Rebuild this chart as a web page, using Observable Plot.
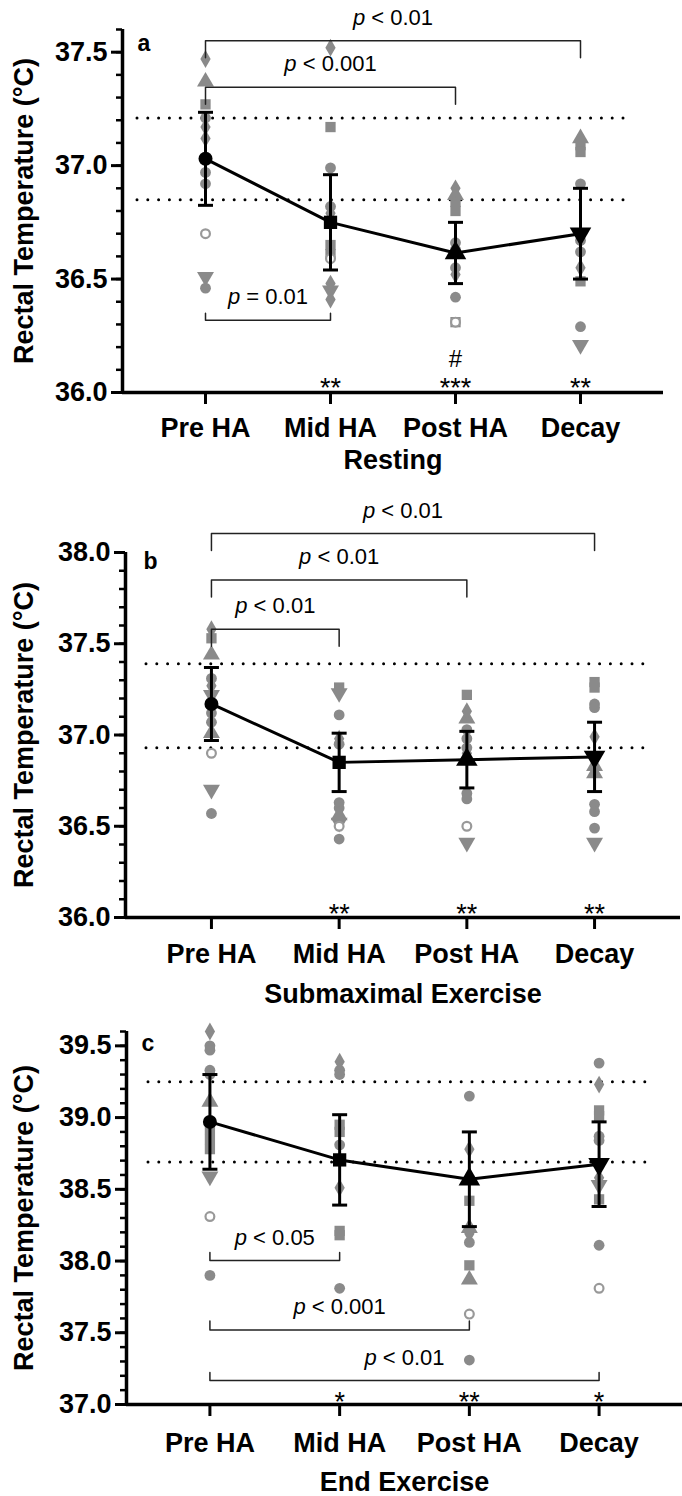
<!DOCTYPE html>
<html>
<head>
<meta charset="utf-8">
<script src="https://cdn.jsdelivr.net/npm/d3@7"></script>
<script src="https://cdn.jsdelivr.net/npm/@observablehq/plot@0.6"></script>
<style>
  body { margin: 0; background: #fff; }
  #chart svg { display: block; }
</style>
</head>
<body>
<div id="chart"></div>
<script>
// Time points of the heat-acclimation protocol
const times = ["Pre HA", "Mid HA", "Post HA", "Decay"];

// ---- Resting rectal temperature (°C)
const restMean = [37.03, 36.75, 36.615, 36.70];
const restSD = [0.205, 0.21, 0.135, 0.20];
const restRef = [36.85, 37.21];
const restStars = ["", "**", "***", "**"];
const restHash = ["", "", "#", ""];
const restBrackets = [[0, 3, "p < 0.01"], [0, 2, "p < 0.001"], [0, 1, "p = 0.01"]];
// [time index, value, marker]
const restPoints = [
  [0,37.47,"d"],[0,37.37,"t"],[0,37.27,"s"],[0,37.21,"c"],[0,37.17,"d"],[0,37.12,"d"],[0,36.97,"c"],[0,36.92,"c"],[0,36.70,"o"],[0,36.51,"v"],[0,36.46,"c"],
  [1,37.52,"d"],[1,37.17,"s"],[1,36.99,"c"],[1,36.82,"c"],[1,36.79,"d"],[1,36.65,"s"],[1,36.61,"s"],[1,36.59,"o"],[1,36.48,"d"],[1,36.45,"v"],[1,36.41,"d"],
  [2,36.90,"d"],[2,36.87,"t"],[2,36.84,"s"],[2,36.80,"s"],[2,36.66,"c"],[2,36.63,"c"],[2,36.55,"c"],[2,36.52,"d"],[2,36.42,"c"],[2,36.31,"s"],[2,36.31,"o"],
  [3,37.12,"t"],[3,37.09,"s"],[3,37.06,"s"],[3,36.92,"c"],[3,36.67,"c"],[3,36.62,"c"],[3,36.55,"d"],[3,36.49,"s"],[3,36.29,"c"],[3,36.21,"v"]
];

// ---- Submaximal exercise rectal temperature (°C)
const subMean = [37.17, 36.85, 36.865, 36.88];
const subSD = [0.20, 0.16, 0.155, 0.19];
const subRef = [36.93, 37.39];
const subStars = ["", "**", "**", "**"];
const subHash = ["", "", "", ""];
const subBrackets = [[0, 3, "p < 0.01"], [0, 2, "p < 0.01"], [0, 1, "p < 0.01"]];
const subPoints = [
  [0,37.58,"d"],[0,37.53,"s"],[0,37.44,"t"],[0,37.31,"c"],[0,37.27,"d"],[0,37.22,"v"],[0,37.12,"c"],[0,37.07,"c"],[0,37.01,"t"],[0,36.90,"o"],[0,36.70,"v"],[0,36.57,"c"],
  [1,37.26,"s"],[1,37.23,"v"],[1,37.11,"c"],[1,36.98,"d"],[1,36.95,"c"],[1,36.63,"c"],[1,36.60,"c"],[1,36.56,"t"],[1,36.52,"v"],[1,36.50,"o"],[1,36.43,"c"],
  [2,37.22,"s"],[2,37.13,"d"],[2,37.09,"t"],[2,37.03,"c"],[2,36.98,"c"],[2,36.93,"c"],[2,36.90,"d"],[2,36.68,"c"],[2,36.65,"c"],[2,36.50,"o"],[2,36.41,"v"],
  [3,37.29,"s"],[3,37.26,"s"],[3,37.17,"c"],[3,37.15,"c"],[3,36.99,"d"],[3,36.83,"t"],[3,36.79,"t"],[3,36.62,"c"],[3,36.58,"c"],[3,36.49,"c"],[3,36.41,"v"]
];

// ---- End-exercise rectal temperature (°C)
const endMean = [38.97, 38.705, 38.57, 38.675];
const endSD = [0.33, 0.315, 0.33, 0.295];
const endRef = [38.69, 39.25];
const endStars = ["", "*", "**", "*"];
const endHash = ["", "", "", ""];
const endBrackets = [[0, 1, "p < 0.05"], [0, 2, "p < 0.001"], [0, 3, "p < 0.01"]];
const endPoints = [
  [0,39.60,"d"],[0,39.50,"c"],[0,39.47,"c"],[0,39.33,"c"],[0,39.30,"c"],[0,39.11,"t"],[0,38.92,"s"],[0,38.85,"s"],[0,38.78,"s"],[0,38.59,"v"],[0,38.31,"o"],[0,37.90,"c"],
  [1,39.39,"d"],[1,39.33,"c"],[1,39.30,"c"],[1,38.95,"s"],[1,38.90,"s"],[1,38.81,"c"],[1,38.51,"d"],[1,38.21,"s"],[1,38.18,"s"],[1,37.81,"c"],
  [2,39.15,"c"],[2,38.78,"d"],[2,38.42,"s"],[2,38.23,"t"],[2,38.19,"d"],[2,38.13,"c"],[2,37.97,"s"],[2,37.87,"t"],[2,37.63,"o"],[2,37.31,"c"],
  [3,39.38,"c"],[3,39.23,"d"],[3,39.05,"s"],[3,39.01,"s"],[3,38.87,"c"],[3,38.84,"c"],[3,38.58,"d"],[3,38.53,"v"],[3,38.43,"s"],[3,38.11,"c"],[3,37.81,"o"]
];

// ---- Styling
const ink = "#000";
const grey = "#8a8a8a";
const font = "'Liberation Sans', Arial, Helvetica, sans-serif";
const markerStyle = {
  c: {symbol: "circle", r: 5.4, fill: grey},
  s: {symbol: "square", r: 5.8, fill: grey},
  t: {symbol: "triangle", r: 6.3, fill: grey},
  v: {symbol: "triangle", r: 6.3, fill: grey, rotate: 180},
  d: {symbol: "diamond", r: 5.4, fill: grey},
  o: {symbol: "circle", r: 4.4, fill: "white", stroke: "#999", strokeWidth: 2.2}
};
const meanStyle = [
  {symbol: "circle", r: 7},
  {symbol: "square", r: 7.5},
  {symbol: "triangle", r: 8},
  {symbol: "triangle", r: 8, rotate: 180}
];
// horizontal cap for the error bars
const capSymbol = {draw(ctx, size) { const w = Math.sqrt(size / Math.PI); ctx.moveTo(-w, 0); ctx.lineTo(w, 0); }};

function panel(d, L) {
  const [y0, y1] = L.yDomain;
  const pxPerUnit = (L.height - L.marginTop - L.marginBottom) / (y1 - y0);
  const stats = d.mean.map((m, i) => ({i, m, lo: m - d.sd[i], hi: m + d.sd[i]}));
  const pts = d.points.map(([i, v, k]) => ({i, v, k}));
  const major = d3.range(y0, y1 + 1e-6, 0.5).filter(v => Math.abs(v * 2 - Math.round(v * 2)) < 1e-6);
  const minor = d3.range(Math.round(y0 * 10), Math.round(y1 * 10) + 1).map(v => v / 10);

  // bracket polylines: horizontal bar with end ticks pointing down (above data) or up (below data)
  const brk = d.brackets.map(([a, b, label], k) => ({a, b, label, level: L.bracketLevels[k], dir: L.bracketDir[k]}));
  const brkLines = brk.flatMap((q, k) => {
    const t = (q.dir === "down" ? -1 : 1) * L.bracketTick[k] / pxPerUnit;
    return [
      {k, x: q.a, y: q.level + t}, {k, x: q.a, y: q.level},
      {k, x: q.b, y: q.level}, {k, x: q.b, y: q.level + t}
    ];
  });
  const sig = (arr) => arr.map((s, i) => ({i, s})).filter(q => q.s);

  const marks = [
    // reference band limits
    Plot.ruleY(d.ref, {stroke: ink, strokeWidth: 3, strokeDasharray: "0 10.8", strokeLinecap: "round", insetLeft: L.refInset[0], insetRight: L.refInset[1]}),
    // axes
    Plot.axisY({ticks: minor, tickSize: 6, strokeWidth: 2.5, tickFormat: () => "", label: null}),
    Plot.axisY({ticks: major, tickSize: 11, strokeWidth: 3, tickPadding: 4, tickFormat: v => v.toFixed(1), fontSize: 27, fontWeight: "bold", label: null}),
    Plot.axisX({ticks: [0, 1, 2, 3], tickFormat: i => times[i], tickSize: 12, strokeWidth: 3, tickPadding: L.xTickPad, fontSize: 27, fontWeight: "bold", label: null}),
    Plot.ruleX([-L.pad], {stroke: ink, strokeWidth: 3.5}),
    Plot.ruleY([y0], {stroke: ink, strokeWidth: 3.5}),
    // individual participants
    ...Object.entries(markerStyle).map(([k, s]) =>
      Plot.dot(pts.filter(p => p.k === k), {x: "i", y: "v", ...s})),
    // group mean ± SD
    Plot.line(stats, {x: "i", y: "m", stroke: ink, strokeWidth: 3}),
    Plot.ruleX(stats, {x: "i", y1: "lo", y2: "hi", stroke: ink, strokeWidth: 3}),
    Plot.dot(stats, {x: "i", y: "lo", symbol: capSymbol, r: 7.5, fill: "none", stroke: ink, strokeWidth: 3}),
    Plot.dot(stats, {x: "i", y: "hi", symbol: capSymbol, r: 7.5, fill: "none", stroke: ink, strokeWidth: 3}),
    ...meanStyle.map((s, i) => Plot.dot(stats.filter(q => q.i === i), {x: "i", y: "m", fill: ink, ...s})),
    // pairwise comparisons
    Plot.line(brkLines, {x: "x", y: "y", z: "k", stroke: "#222", strokeWidth: 1.5}),
    Plot.text(brk, {x: q => (q.a + q.b) / 2, y: "level", text: "label", dy: -23, fontSize: 22, fill: ink}),
    // differences from Pre HA (*) and from Mid HA (#)
    Plot.text(sig(d.stars), {x: "i", y: () => y0, text: "s", lineAnchor: "bottom", dy: L.starDy, fontSize: 27, fill: ink}),
    Plot.text(sig(d.hash), {x: "i", y: () => y0, text: "s", lineAnchor: "bottom", dy: L.starDy - 30, fontSize: 24, fill: ink}),
    // panel letter, axis titles
    Plot.text([L.letter], {frameAnchor: "top-left", textAnchor: "start", lineAnchor: "bottom", dx: L.letterDx, dy: L.letterDy, fontSize: 23, fontWeight: "bold", fill: ink}),
    Plot.text(["Rectal Temperature (°C)"], {frameAnchor: "left", textAnchor: "middle", rotate: -90, dx: -(L.marginLeft - 24), fontSize: 27, fontWeight: "bold", fill: ink}),
    Plot.text([L.title], {frameAnchor: "bottom", dy: L.titleDy, fontSize: 27, fontWeight: "bold", fill: ink})
  ];

  const svg = Plot.plot({
    width: 682,
    height: L.height,
    marginTop: L.marginTop,
    marginBottom: L.marginBottom,
    marginLeft: L.marginLeft,
    marginRight: L.marginRight,
    x: {domain: [-L.pad, 3 + L.pad]},
    y: {domain: L.yDomain},
    style: {fontFamily: font, color: ink, background: "white", overflow: "visible"},
    marks
  });

  // italic p in the comparison labels
  svg.querySelectorAll("text").forEach(t => {
    if (t.children.length === 0 && /^p [<=]/.test(t.textContent)) {
      const rest = t.textContent.slice(1);
      t.textContent = "";
      const it = document.createElementNS("http://www.w3.org/2000/svg", "tspan");
      it.setAttribute("font-style", "italic");
      it.textContent = "p";
      t.appendChild(it);
      t.appendChild(document.createTextNode(rest));
    }
  });
  return svg;
}

const root = document.getElementById("chart");

root.appendChild(panel(
  {mean: restMean, sd: restSD, ref: restRef, stars: restStars, hash: restHash, brackets: restBrackets, points: restPoints},
  {letter: "a", title: "Resting", yDomain: [36, 37.6], height: 480, marginTop: 29, marginBottom: 88, marginLeft: 122, marginRight: 19, pad: 0.664,
   refInset: [15, 31], xTickPad: 13, titleDy: 76, starDy: 4, letterDx: 15, letterDy: 21,
   bracketLevels: [37.55, 37.345, 36.318], bracketDir: ["down", "down", "up"], bracketTick: [17, 17, 7]}
));

root.appendChild(panel(
  {mean: subMean, sd: subSD, ref: subRef, stars: subStars, hash: subHash, brackets: subBrackets, points: subPoints},
  {letter: "b", title: "Submaximal Exercise", yDomain: [36, 38], height: 530, marginTop: 72, marginBottom: 93, marginLeft: 125, marginRight: 2, pad: 0.673,
   refInset: [21, 32], xTickPad: 14, titleDy: 85, starDy: 5, letterDx: 18, letterDy: 16,
   bracketLevels: [38.104, 37.85, 37.58], bracketDir: ["down", "down", "down"], bracketTick: [17, 17, 17]}
));

root.appendChild(panel(
  {mean: endMean, sd: endSD, ref: endRef, stars: endStars, hash: endHash, brackets: endBrackets, points: endPoints},
  {letter: "c", title: "End Exercise", yDomain: [37, 39.6], height: 486, marginTop: 21, marginBottom: 92, marginLeft: 126, marginRight: 0, pad: 0.643,
   refInset: [22, 30], xTickPad: 16, titleDy: 86, starDy: 6, letterDx: 15, letterDy: 19,
   bracketLevels: [38.003, 37.52, 37.167], bracketDir: ["up", "up", "up"], bracketTick: [8, 9, 8]}
));
</script>
</body>
</html>
